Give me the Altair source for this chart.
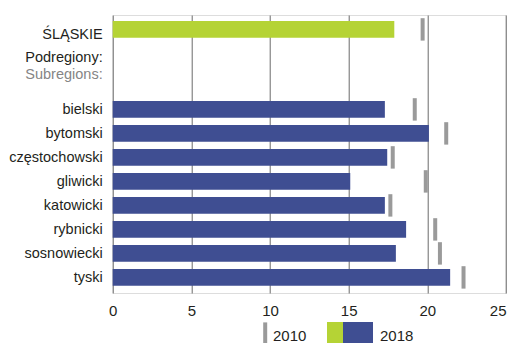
import altair as alt
import pandas as pd

# ---- data ----
regions = ["ŚLĄSKIE", "bielski", "bytomski", "częstochowski", "gliwicki",
           "katowicki", "rybnicki", "sosnowiecki", "tyski"]
v2018 = [17.9, 17.3, 20.1, 17.45, 15.1, 17.3, 18.65, 18.0, 21.45]
v2010 = [19.7, 19.2, 21.2, 17.8, 19.9, 17.65, 20.5, 20.8, 22.3]
headers = ["Podregiony:", "Subregions:"]
x_ticks = [0, 5, 10, 15, 20, 25]
legend_labels = ["2010", "2018"]

# ---- styling ----
FONT = "Liberation Sans Narrow, Liberation Sans, Arial, sans-serif"
FS = 14.5
GREEN = "#b5d335"
BLUE = "#3f4e92"
GRAY = "#9a9a9a"
TEXT = "#231f20"
SUBTEXT = "#858585"

# row layout (in row units; 1 unit = one subregion row)
gap = 10 / 3
pos = [0.0] + [gap + i for i in range(len(regions) - 1)]
df = pd.DataFrame({
    "region": regions,
    "v2018": v2018,
    "v2010": v2010,
    "pos": pos,
    "color": [GREEN] + [BLUE] * (len(regions) - 1),
    "lab": [p + (0.38 if i == 0 else 0.21) for i, p in enumerate(pos)],
})
df["b0"] = df["pos"] - 0.348
df["b1"] = df["pos"] + 0.348
df["m0"] = df["pos"] - 0.467
df["m1"] = df["pos"] + 0.467

hdr = pd.DataFrame({"text": headers, "lab": [1.36, 2.05],
                    "col": [TEXT, SUBTEXT]})

ydom = [-0.6, -0.6 + 278 / 24]
yscale = alt.Scale(domain=ydom, reverse=True, nice=False, zero=False)
xscale = alt.Scale(domain=[0, 25], nice=False)

base = alt.Chart(df)

bars = base.mark_rect().encode(
    x=alt.X("v2018:Q", scale=xscale, axis=alt.Axis(
        values=x_ticks, grid=True, gridColor="#6b6b6b", gridWidth=1,
        domain=False, ticks=False, labelFont=FONT, labelFontSize=15,
        labelColor=TEXT, labelPadding=10, title=None, labelFlush=False,
        labelAlign={"condition": {"test": "datum.value >= 25", "value": "right"},
                    "value": "center"})),
    x2=alt.datum(0),
    y=alt.Y("b0:Q", scale=yscale, axis=None),
    y2="b1:Q",
    color=alt.Color("color:N", scale=None),
)

markers = base.mark_rule(strokeWidth=4, color=GRAY).encode(
    x=alt.X("v2010:Q", scale=xscale),
    y=alt.Y("m0:Q", scale=yscale),
    y2="m1:Q",
)

labels = base.mark_text(align="right", baseline="alphabetic", font=FONT,
                        fontSize=FS, color=TEXT).encode(
    x=alt.value(-10),
    y=alt.Y("lab:Q", scale=yscale),
    text="region:N",
)

head = alt.Chart(hdr).mark_text(align="right", baseline="alphabetic",
                                font=FONT, fontSize=FS).encode(
    x=alt.value(-10),
    y=alt.Y("lab:Q", scale=yscale),
    text="text:N",
    color=alt.Color("col:N", scale=None),
)

# legend (drawn by hand: the 2018 swatch is two-coloured)
LEG_TOP = 307
LEG_BOT = 328
LEG_BASE = 325.5
one = pd.DataFrame({"a": [0]})
leg_marker = alt.Chart(one).mark_rule(strokeWidth=4, color=GRAY).encode(
    x=alt.value(152.5), y=alt.value(LEG_TOP + 0.4), y2=alt.value(LEG_BOT))
leg_green = alt.Chart(one).mark_rect(color=GREEN).encode(
    x=alt.value(214.3), x2=alt.value(230.3), y=alt.value(LEG_TOP), y2=alt.value(LEG_BOT))
leg_blue = alt.Chart(one).mark_rect(color=BLUE).encode(
    x=alt.value(230.3), x2=alt.value(260.3), y=alt.value(LEG_TOP), y2=alt.value(LEG_BOT))
leg_t1 = alt.Chart(one).mark_text(align="left", baseline="alphabetic", font=FONT,
                                  fontSize=15, color=TEXT, text=legend_labels[0]).encode(
    x=alt.value(160.3), y=alt.value(LEG_BASE))
leg_t2 = alt.Chart(one).mark_text(align="left", baseline="alphabetic", font=FONT,
                                  fontSize=15, color=TEXT, text=legend_labels[1]).encode(
    x=alt.value(267.3), y=alt.value(LEG_BASE))

chart = alt.layer(bars, markers, labels, head, leg_marker, leg_green, leg_blue,
                  leg_t1, leg_t2).properties(
    width=393.3, height=278,
    autosize=alt.AutoSizeParams(type="none"),
    padding={"left": 104.7, "top": 7, "right": 1, "bottom": 52},
).configure_view(stroke=None).configure(background="white")

chart.save("out.html", embed_options={"renderer": "svg", "actions": False})
